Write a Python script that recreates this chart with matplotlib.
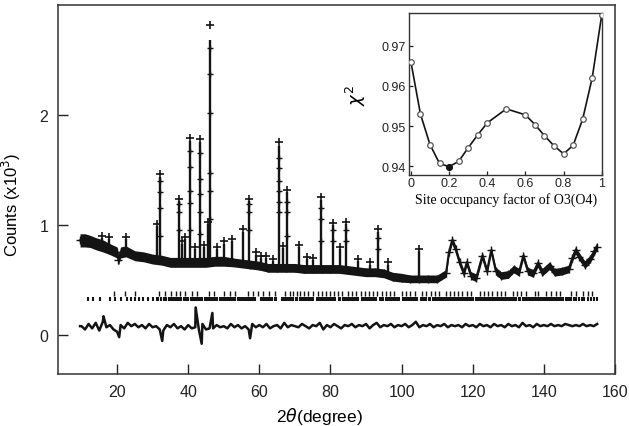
import numpy as np
import matplotlib
matplotlib.use('Agg')
import matplotlib.pyplot as plt
from matplotlib.ticker import FixedLocator, FixedFormatter

# ---------------- main pattern data (2theta in degree, counts x10^3) -------------
bg_x = [9.6, 11, 12.5, 14, 16, 18, 20, 20.4, 21, 22.5, 25, 27.5, 30, 32.5, 35, 37.5,
        40, 42.5, 45, 47.5, 50, 52.5, 55, 57.5, 60, 62.5, 65, 67.5, 70, 72.5, 75,
        77.5, 80, 82.5, 85, 87.5, 90, 92.5, 95, 97.5, 100, 102.5, 105, 107.5, 110,
        112.5, 113.3, 114.2, 115.2, 116.3, 117.5, 118.3, 119.5, 121, 122.7, 124,
        125.2, 126.5, 128, 130, 131.5, 133, 134.2, 135.5, 137, 138.3, 139.5, 141.6,
        143, 145, 147, 148.0, 148.9, 150, 151.5, 153, 154.2, 154.8]
bg_y = [0.86, 0.86, 0.85, 0.83, 0.81, 0.78, 0.75, 0.68, 0.75, 0.76, 0.72, 0.71, 0.69,
        0.68, 0.66, 0.66, 0.66, 0.66, 0.66, 0.67, 0.67, 0.66, 0.65, 0.64, 0.63, 0.61,
        0.61, 0.61, 0.61, 0.60, 0.60, 0.60, 0.60, 0.60, 0.59, 0.58, 0.57, 0.57, 0.56,
        0.53, 0.52, 0.51, 0.51, 0.51, 0.51, 0.56, 0.75, 0.86, 0.78, 0.66, 0.56, 0.66,
        0.54, 0.52, 0.72, 0.58, 0.77, 0.58, 0.54, 0.55, 0.60, 0.57, 0.72, 0.58, 0.56,
        0.65, 0.57, 0.63, 0.57, 0.58, 0.60, 0.70, 0.77, 0.71, 0.64, 0.69, 0.76, 0.80]
bg_spread = [0.06, 0.06, 0.055, 0.055, 0.055, 0.05, 0.05, 0.045, 0.05, 0.05, 0.045,
             0.045, 0.045, 0.045, 0.045, 0.045, 0.045, 0.045, 0.045, 0.045, 0.045,
             0.04, 0.04, 0.04, 0.04, 0.04, 0.04, 0.04, 0.04, 0.04, 0.04, 0.04, 0.04,
             0.04, 0.04, 0.04, 0.04, 0.04, 0.04, 0.04, 0.04, 0.035, 0.035, 0.035,
             0.035, 0.035, 0.035, 0.035, 0.035, 0.035, 0.035, 0.035, 0.035, 0.035,
             0.035, 0.035, 0.035, 0.035, 0.035, 0.035, 0.035, 0.035, 0.035, 0.035,
             0.035, 0.035, 0.035, 0.035, 0.035, 0.035, 0.035, 0.035, 0.035, 0.035,
             0.035, 0.035, 0.035, 0.035]

peak_pos = [15.7, 17.8, 22.5, 31.1, 32.1, 37.3, 38.2, 39.2, 40.5, 41.8, 43.2, 44.5,
            45.6, 46.1, 48.0, 50.0, 52.4, 55.3, 57.0, 59.0, 60.6, 61.8, 63.9, 65.6,
            66.7, 67.8, 71.1, 73.3, 75.1, 77.3, 80.8, 82.8, 84.5, 87.7, 91.1, 93.5,
            96.2, 105.0]
peak_top = [0.90, 0.89, 0.89, 1.01, 1.46, 1.24, 0.85, 0.89, 1.79, 0.80, 1.78, 0.82,
            1.03, 2.82, 0.80, 0.85, 0.87, 0.96, 1.24, 0.75, 0.72, 0.72, 0.69, 1.75,
            0.81, 1.32, 0.82, 0.71, 0.70, 1.25, 1.02, 0.80, 1.03, 0.69, 0.66, 0.96,
            0.66, 0.78]
peak_calc = [0.88, 0.87, 0.87, 0.99, 1.44, 1.22, 0.83, 0.87, 1.76, 0.78, 1.75, 0.80,
             1.01, 2.68, 0.78, 0.83, 0.85, 0.94, 1.22, 0.73, 0.70, 0.70, 0.67, 1.72,
             0.79, 1.30, 0.80, 0.69, 0.68, 1.23, 1.00, 0.78, 1.01, 0.67, 0.64, 0.94,
             0.64, 0.76]
peak_base = [0.82, 0.79, 0.75, 0.69, 0.68, 0.66, 0.66, 0.66, 0.66, 0.66, 0.66, 0.66,
             0.66, 0.66, 0.67, 0.67, 0.66, 0.65, 0.64, 0.63, 0.62, 0.61, 0.61, 0.61,
             0.61, 0.61, 0.60, 0.60, 0.60, 0.60, 0.60, 0.60, 0.59, 0.58, 0.57, 0.57,
             0.55, 0.51]

# observed points on the flanks of the strongest reflections
side_x = [46.1, 46.1, 46.1, 46.1, 46.1, 46.1, 40.5, 40.5, 40.5, 40.5, 40.5,
          43.2, 43.2, 43.2, 43.2, 43.2, 32.1, 32.1, 32.1, 32.1,
          65.6, 65.6, 65.6, 65.6, 65.6, 65.6, 37.3, 37.3, 37.3, 57.0, 57.0, 57.0,
          67.8, 67.8, 67.8, 77.3, 77.3, 77.3, 80.8, 80.8, 84.5, 84.5, 93.5, 93.5]
side_y = [2.61, 2.37, 2.02, 1.47, 1.31, 1.05, 1.675, 1.53, 1.31, 1.20, 0.95,
          1.65, 1.42, 1.28, 1.12, 0.92, 1.40, 1.30, 1.15, 0.90,
          1.61, 1.52, 1.40, 1.31, 1.21, 1.12, 1.19, 1.12, 0.95, 1.19, 1.12, 0.95,
          1.21, 1.12, 0.90, 1.15, 1.05, 0.85, 0.95, 0.85, 0.95, 0.85, 0.88, 0.78]

# Bragg reflection markers (two phases)
bragg1 = [19.2, 22.2, 25.1, 31.9, 33.5, 35.1, 36.5, 37.7, 39.1, 41.0, 42.4, 45.9,
          47.3, 50.1, 51.7, 53.1, 56.9, 58.3, 59.7, 61.1, 62.8, 64.4, 67.2, 68.6,
          69.5, 70.5, 71.4, 72.5, 73.7, 75.1, 76.4, 77.5, 78.7, 79.8, 81.0, 82.2,
          83.3, 85.0, 86.1, 87.3, 88.5, 89.7, 90.8, 92.0, 93.1, 94.4, 95.5, 96.7,
          97.9, 100.0, 101.1, 102.3, 103.7, 105.6, 107.0, 108.2, 109.3, 110.5, 112.4,
          113.5, 114.7, 115.9, 117.1, 118.4, 119.6, 122.0, 123.2, 124.3, 125.5,
          126.7, 127.9, 129.0, 131.3, 132.4, 133.7, 135.1, 137.4, 138.3, 140.7,
          142.1, 143.3, 144.6, 147.7, 148.9, 151.0, 152.4, 153.6]
bragg2 = [11.8, 13.3, 15.2, 18.0, 19.4, 21.1, 22.7, 23.9, 25.1, 26.3, 27.4, 28.8,
          30.2, 31.1, 31.6, 32.4, 33.1, 33.8, 34.5, 35.1, 35.5, 36.0, 36.5, 37.0,
          37.6, 38.1, 38.8, 39.4, 40.0, 40.7, 41.3, 41.8, 42.2, 42.8, 43.4, 44.0,
          44.6, 45.2, 45.8, 46.4, 47.0, 47.6, 48.2, 48.9, 49.5, 50.0, 50.4, 50.9,
          51.5, 52.1, 52.7, 53.3, 53.9, 54.5, 55.1, 55.7, 56.3, 56.9, 57.5, 58.0,
          58.4, 58.9, 60.4, 61.0, 61.5, 62.0, 62.5, 63.1, 63.7, 64.3, 64.8, 66.3,
          66.9, 67.4, 68.0, 68.5, 69.1, 69.6, 70.2, 70.7, 71.3, 71.8, 72.4, 72.9,
          73.5, 74.0, 74.6, 75.1, 76.2, 76.8, 77.3, 77.9, 78.4, 79.0, 79.5, 80.1,
          80.6, 81.2, 82.3, 82.8, 83.4, 83.9, 84.5, 85.0, 85.6, 86.1, 86.7, 87.2,
          87.8, 88.9, 89.4, 90.0, 90.5, 91.1, 91.6, 92.2, 92.7, 93.8, 94.4, 94.9,
          95.5, 96.0, 96.6, 97.1, 97.7, 98.2, 98.8, 99.3, 100.4, 101.0, 101.5,
          102.1, 102.6, 103.2, 103.7, 104.3, 105.4, 105.9, 106.5, 107.0, 107.6,
          108.1, 108.7, 109.2, 109.8, 110.3, 110.9, 111.4, 112.0, 112.5, 113.1,
          113.6, 114.2, 114.7, 115.3, 115.8, 116.4, 116.9, 117.5, 118.0, 118.6,
          119.1, 119.7, 120.2, 120.8, 121.3, 121.9, 122.4, 123.0, 123.5, 124.1,
          124.6, 125.2, 125.7, 126.3, 126.8, 127.4, 127.9, 128.5, 129.0, 129.6,
          130.1, 130.7, 131.2, 131.8, 132.3, 132.9, 133.4, 134.0, 134.5, 135.1,
          135.6, 136.2, 136.7, 137.3, 137.8, 138.4, 138.9, 139.5, 140.0, 140.6,
          141.1, 141.7, 142.2, 142.8, 143.3, 143.9, 144.4, 145.0, 145.5, 146.1,
          146.6, 147.2, 147.7, 148.4, 149.1, 149.8, 150.6, 151.4, 152.3, 153.2,
          154.0, 154.8]

# difference curve (obs - calc), offset
diff_x = list(range(10, 156))
diff_y = [0.08, 0.05, 0.10, 0.06, 0.11, 0.04, 0.12, 0.07, 0.09, 0.05,
          0.03, 0.09, 0.06, 0.11, 0.08, 0.10, 0.07, 0.09, 0.06, 0.10,
          0.07, 0.08, 0.05, 0.04, 0.09, 0.07, 0.10, 0.06, 0.08, 0.05,
          0.09, 0.06, 0.07, 0.05, 0.10, 0.05, 0.06, 0.06, 0.09, 0.07,
          0.08, 0.06, 0.10, 0.07, 0.09, 0.06, 0.08, 0.05, 0.10, 0.07,
          0.09, 0.07, 0.10, 0.06, 0.08, 0.09, 0.06, 0.11, 0.07, 0.09,
          0.08, 0.07, 0.10, 0.08, 0.06, 0.09, 0.08, 0.11, 0.05, 0.09,
          0.07, 0.10, 0.08, 0.06, 0.09, 0.08, 0.10, 0.07, 0.09, 0.08,
          0.10, 0.06, 0.09, 0.11, 0.07, 0.09, 0.08, 0.10, 0.07, 0.09,
          0.08, 0.10, 0.07, 0.09, 0.12, 0.07, 0.09, 0.08, 0.10, 0.07,
          0.09, 0.08, 0.10, 0.07, 0.09, 0.08, 0.09, 0.07, 0.10, 0.08,
          0.09, 0.07, 0.10, 0.08, 0.09, 0.07, 0.10, 0.08, 0.09, 0.07,
          0.10, 0.08, 0.09, 0.07, 0.11, 0.08, 0.09, 0.07, 0.10, 0.08,
          0.09, 0.08, 0.10, 0.08, 0.09, 0.08, 0.10, 0.09, 0.08, 0.09,
          0.08, 0.10, 0.08, 0.09, 0.08, 0.10]
spike_x = [9.6, 16.2, 20.6, 32.7, 42.1, 43.8, 46.8, 57.4]
spike_y = [0.08, 0.17, -0.02, -0.055, 0.25, -0.08, 0.20, -0.03]

# ---------------- inset: chi^2 vs site occupancy -----------------
occ = [0.0, 0.05, 0.10, 0.15, 0.20, 0.25, 0.30, 0.35, 0.40, 0.50, 0.60, 0.65,
       0.70, 0.75, 0.80, 0.85, 0.90, 0.95, 1.00]
chi2 = [0.9660, 0.9530, 0.9454, 0.9407, 0.9399, 0.9412, 0.9446, 0.9478, 0.9508,
        0.9543, 0.9528, 0.9504, 0.9476, 0.9451, 0.9431, 0.9452, 0.9517, 0.9620,
        0.9777]
best_occ = 0.20

sans = 'Liberation Sans'
serif = 'Liberation Serif'
ink = '#141414'

fig = plt.figure(figsize=(6.29, 4.27), dpi=100)
fig.patch.set_facecolor('white')
ax = fig.add_axes([58/629, 1-375/427, 557/629, 369/427])

# band of observed points (background)
bx = np.array(bg_x); by = np.array(bg_y); bs = np.array(bg_spread)
ax.fill_between(bx, by - bs, by + bs, color=ink, lw=0)
ax.plot(bx, by, color=ink, lw=1.5, marker='+', ms=6, mew=1.0)
# reflections: calculated line + observed crosses
ax.vlines(peak_pos, peak_base, peak_calc, color=ink, lw=1.7)
ax.plot(peak_pos, peak_top, ls='none', marker='+', ms=5.5, mew=1.2, color=ink)
ax.plot(side_x, side_y, ls='none', marker='+', ms=5, mew=1.0, color=ink)
# Bragg markers
ax.vlines(bragg1, 0.355, 0.40, color=ink, lw=1.0)
ax.vlines(bragg2, 0.305, 0.345, color=ink, lw=1.5)
# difference curve
dx = np.concatenate([diff_x, spike_x]); dy = np.concatenate([diff_y, spike_y])
order = np.argsort(dx)
ax.plot(dx[order], dy[order], color=ink, lw=1.8)

ax.set_xlim(3.4, 160)
ax.set_ylim(-0.355, 3.0)
ax.set_xticks([20, 40, 60, 80, 100, 120, 140, 160])
ax.set_yticks([0, 1, 2])
ax.tick_params(direction='in', length=7, width=1.0, pad=7, labelsize=11.5,
               top=False, right=False, colors='#222222')
for lab in ax.get_xticklabels() + ax.get_yticklabels():
    lab.set_fontfamily(sans)
for s in ax.spines.values():
    s.set_linewidth(1.1); s.set_color('#333333')
ax.set_xlabel(r'2$\theta$(degree)', fontsize=12.5, family=sans)
ax.xaxis.set_label_coords(0.47, -0.085)
ax.set_ylabel(r'Counts (x10$^3$)', fontsize=12, family=sans)
ax.yaxis.set_label_coords(-0.062, 0.46)

# ---------------- inset -----------------
ax2 = fig.add_axes([409/629, 1-175.7/427, 193.3/629, 161.4/427])
ax2.set_facecolor('white')
ax2.plot(occ, chi2, color=ink, lw=1.2, marker='o', ms=4.0, mfc='white',
         mec='#555555', mew=0.9, zorder=3)
ax2.plot([best_occ], [chi2[occ.index(best_occ)]], ls='none', marker='o', ms=4.0,
         mfc=ink, mec=ink, zorder=4)
ax2.set_xlim(-0.01, 1.003)
ax2.set_ylim(0.9379, 0.9781)
ax2.xaxis.set_major_locator(FixedLocator([0, 0.2, 0.4, 0.6, 0.8, 1.0]))
ax2.xaxis.set_major_formatter(FixedFormatter(['0', '0.2', '0.4', '0.6', '0.8', '1']))
ax2.set_yticks([0.94, 0.95, 0.96, 0.97])
ax2.set_yticklabels(['0.94', '0.95', '0.96', '0.97'])
ax2.tick_params(direction='in', length=3, width=0.9, pad=2, labelsize=9,
                colors='#222222')
for lab in ax2.get_xticklabels() + ax2.get_yticklabels():
    lab.set_fontfamily(sans)
for s in ax2.spines.values():
    s.set_linewidth(1.0); s.set_color('#333333')
ax2.set_xlabel('Site occupancy factor of O3(O4)', fontsize=10, family=serif, labelpad=2)
ax2.set_ylabel(r'$\chi^2$', fontsize=13, family=serif, labelpad=4)
ax2.yaxis.set_label_coords(-0.21, 0.5)

fig.savefig('out.png', dpi=100)
